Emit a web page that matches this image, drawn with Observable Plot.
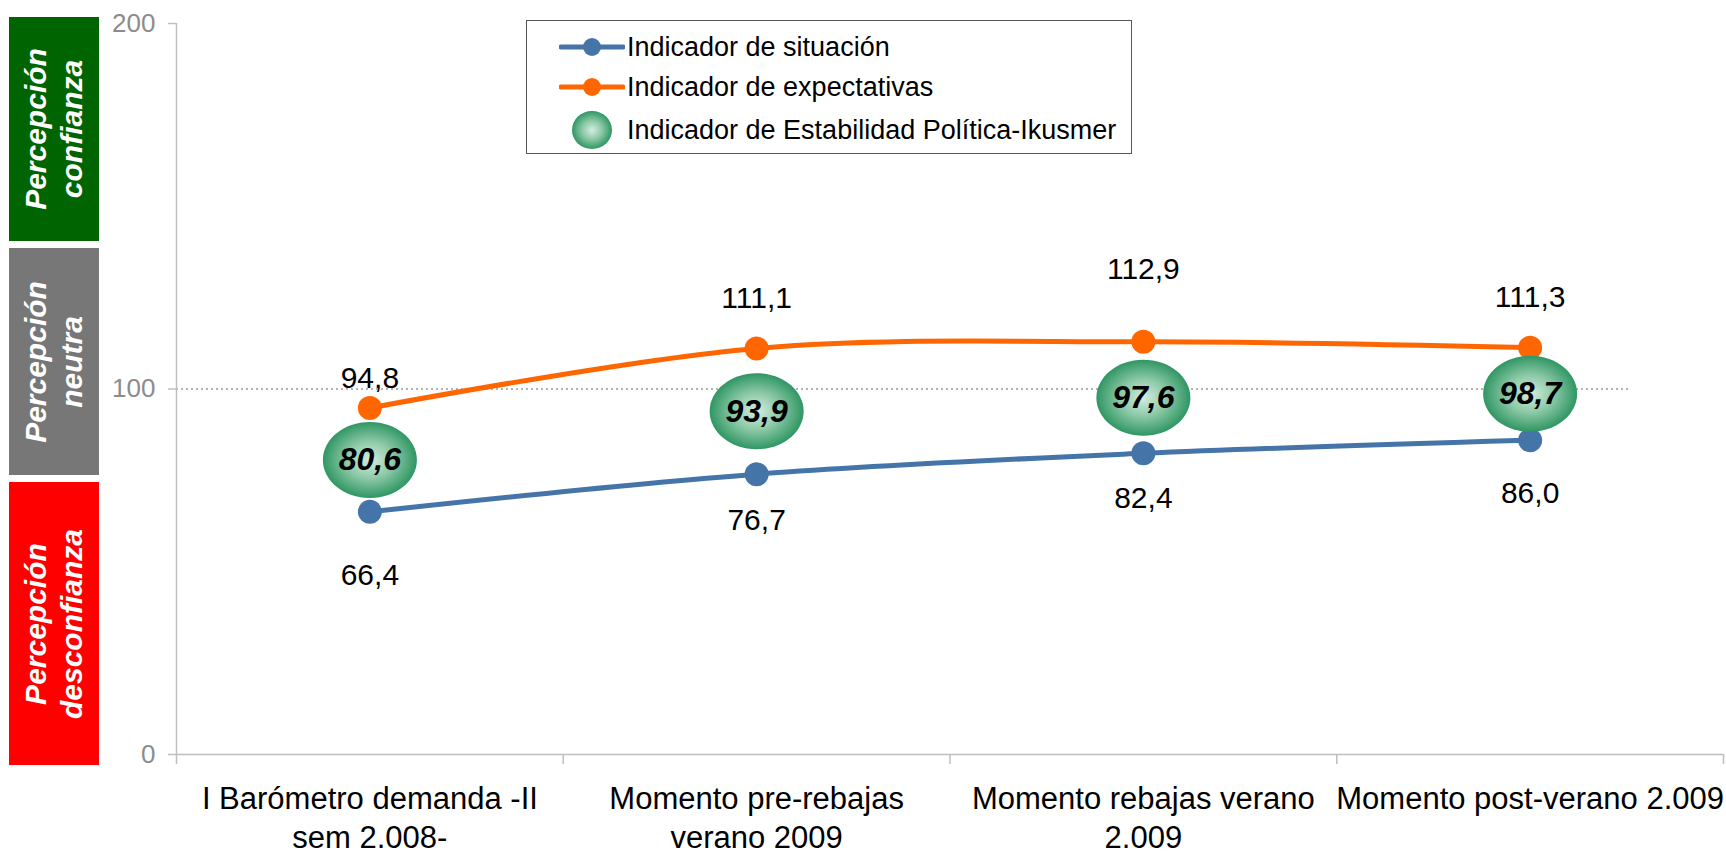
<!DOCTYPE html>
<html>
<head>
<meta charset="utf-8">
<script src="https://cdn.jsdelivr.net/npm/d3@7"></script>
<script src="https://cdn.jsdelivr.net/npm/@observablehq/plot@0.6"></script>
<style>
  html, body { margin: 0; padding: 0; background: #fff; }
  body { font-family: "Liberation Sans", Arial, sans-serif; }
  #wrap { position: relative; width: 1726px; height: 855px; overflow: hidden; }
  #chart { position: absolute; left: 0; top: 0; }
  .zone { position: absolute; left: 9px; width: 90px; display: flex; align-items: center; justify-content: center; }
  .zone .txt { transform: rotate(-90deg); white-space: nowrap; text-align: center; color: #fff; font-weight: bold; font-style: italic; font-size: 30px; line-height: 36px; }
  #legend { position: absolute; left: 526px; top: 20px; width: 604px; height: 132px; border: 1.5px solid #555; background: #fff; }
  .lrow { position: absolute; left: 0; height: 40px; display: flex; align-items: center; }
  .lrow svg { position: absolute; left: 32px; }
  .lrow span { position: absolute; left: 100px; white-space: nowrap; font-size: 27px; color: #000; }
</style>
</head>
<body>
<div id="wrap">
  <div id="chart"></div>
</div>
<script>
// ---- data ----
const categories = [
  "I Barómetro demanda -II\nsem 2.008-",
  "Momento pre-rebajas\nverano 2009",
  "Momento rebajas verano\n2.009",
  "Momento post-verano 2.009"
];
const situacion = [66.4, 76.7, 82.4, 86.0];
const expectativas = [94.8, 111.1, 112.9, 111.3];
const estabilidad = [80.6, 93.9, 97.6, 98.7];
const yTicks = [0, 100, 200];
const seriesNames = [
  "Indicador de situación",
  "Indicador de expectativas",
  "Indicador de Estabilidad Política-Ikusmer"
];
const zoneLabels = [
  ["Percepción", "confianza"],
  ["Percepción", "neutra"],
  ["Percepción", "desconfianza"]
];

// ---- styling ----
const BLUE = "#4575a8";
const ORANGE = "#ff6600";
const ZONE_COLORS = ["#006400", "#777777", "#ff0000"];
const ZONE_BOXES = [[17, 241], [248, 475], [482, 765]];
const expDy = [-30, -50, -72, -50];
const sitDy = [64, 46, 45, 53];

const fmt = v => v.toFixed(1).replace(".", ",");
const rows = categories.map((c, i) => ({ i, c, s: situacion[i], e: expectativas[i], g: estabilidad[i] }));
const bounds = d3.range(categories.length + 1).map(k => k - 0.5);

const ellipseSymbol = {
  draw(ctx) {
    const rx = 47, ry = 38, k = 0.5523;
    ctx.moveTo(rx, 0);
    ctx.bezierCurveTo(rx, ry * k, rx * k, ry, 0, ry);
    ctx.bezierCurveTo(-rx * k, ry, -rx, ry * k, -rx, 0);
    ctx.bezierCurveTo(-rx, -ry * k, -rx * k, -ry, 0, -ry);
    ctx.bezierCurveTo(rx * k, -ry, rx, -ry * k, rx, 0);
    ctx.closePath();
  }
};

const plot = Plot.plot({
  width: 1726,
  height: 855,
  marginLeft: 176,
  marginRight: 3,
  marginTop: 23,
  marginBottom: 101,
  x: { domain: [-0.5, categories.length - 0.5], axis: null },
  y: { domain: [0, 200], axis: null },
  style: { fontFamily: "'Liberation Sans', Arial, sans-serif", background: "transparent", overflow: "visible" },
  marks: [
    Plot.ruleY([100], { stroke: "#9a9a9a", strokeWidth: 1.5, strokeDasharray: "2,3", insetRight: 95 }),
    Plot.axisY(yTicks, { tickSize: 8, tickPadding: 13, fontSize: 26, stroke: "#bfbfbf", fill: "#8c8c8c", label: null, strokeWidth: 1.5 }),
    Plot.axisX(bounds, { tickSize: 10, tickFormat: () => "", stroke: "#bfbfbf", label: null, strokeWidth: 1.5 }),
    Plot.ruleX([-0.5], { stroke: "#bfbfbf", strokeWidth: 1.5 }),
    Plot.ruleY([0], { stroke: "#bfbfbf", strokeWidth: 1.5 }),
    Plot.text(rows, { x: "i", y: 0, text: "c", dy: 27, lineAnchor: "top", fontSize: 31, lineHeight: 1.25, fill: "#000" }),
    Plot.line(rows, { x: "i", y: "s", stroke: BLUE, strokeWidth: 5, curve: "catmull-rom" }),
    Plot.line(rows, { x: "i", y: "e", stroke: ORANGE, strokeWidth: 5, curve: "catmull-rom" }),
    Plot.dot(rows, { x: "i", y: "s", r: 12, fill: BLUE }),
    Plot.dot(rows, { x: "i", y: "e", r: 12, fill: ORANGE }),
    ...rows.map((r, k) => Plot.text([r], { x: "i", y: "e", text: d => fmt(d.e), dy: expDy[k], fontSize: 30, fill: "#000" })),
    ...rows.map((r, k) => Plot.text([r], { x: "i", y: "s", text: d => fmt(d.s), dy: sitDy[k], fontSize: 30, fill: "#000" })),
    Plot.dot(rows, { x: "i", y: "g", r: 40, symbol: ellipseSymbol, fill: "url(#egrad)" }),
    Plot.text(rows, { x: "i", y: "g", text: d => fmt(d.g), fontSize: 32, fontWeight: "bold", fontStyle: "italic", fill: "#000" })
  ]
});

const ns = "http://www.w3.org/2000/svg";
const defs = document.createElementNS(ns, "defs");
defs.innerHTML = '<radialGradient id="egrad" cx="50%" cy="50%" r="50%">' +
  '<stop offset="0" stop-color="#d4ede0"/>' +
  '<stop offset="0.5" stop-color="#8bc8a6"/>' +
  '<stop offset="1" stop-color="#2f9663"/>' +
  '</radialGradient>';
plot.insertBefore(defs, plot.firstChild);
document.getElementById("chart").appendChild(plot);

const wrap = document.getElementById("wrap");

// zone boxes
zoneLabels.forEach((lines, k) => {
  const d = document.createElement("div");
  d.className = "zone";
  d.style.top = ZONE_BOXES[k][0] + "px";
  d.style.height = (ZONE_BOXES[k][1] - ZONE_BOXES[k][0]) + "px";
  d.style.background = ZONE_COLORS[k];
  const t = document.createElement("div");
  t.className = "txt";
  t.innerHTML = lines.join("<br>");
  d.appendChild(t);
  wrap.appendChild(d);
});

// legend
const legend = document.createElement("div");
legend.id = "legend";
const rowTops = [6, 46, 89];
seriesNames.forEach((name, k) => {
  const r = document.createElement("div");
  r.className = "lrow";
  r.style.top = rowTops[k] + "px";
  let sym;
  if (k < 2) {
    const c = k === 0 ? BLUE : ORANGE;
    sym = `<svg width="66" height="40" viewBox="0 0 66 40"><line x1="2" y1="20" x2="64" y2="20" stroke="${c}" stroke-width="5" stroke-linecap="round"/><circle cx="33" cy="20" r="9" fill="${c}"/></svg>`;
  } else {
    sym = `<svg width="66" height="40" viewBox="0 0 66 40"><ellipse cx="33" cy="20" rx="20" ry="19" fill="url(#egrad)"/></svg>`;
  }
  r.innerHTML = sym + `<span>${name}</span>`;
  legend.appendChild(r);
});
wrap.appendChild(legend);
</script>
</body>
</html>
